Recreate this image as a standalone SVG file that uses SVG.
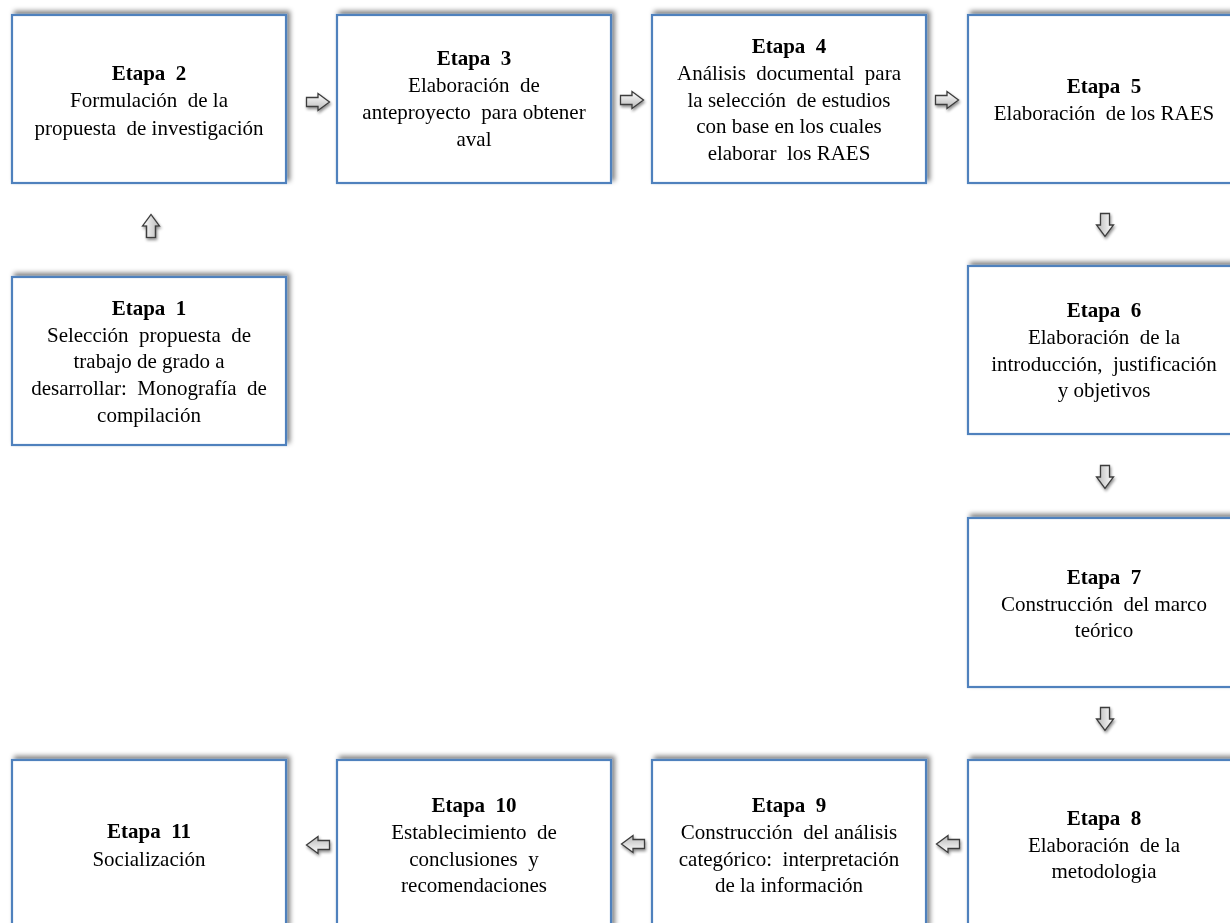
<svg xmlns="http://www.w3.org/2000/svg" width="1230" height="923" viewBox="0 0 1230 923" xml:space="preserve">
<defs>
<filter id="sh" x="-10%" y="-10%" width="120%" height="120%">
<feGaussianBlur in="SourceAlpha" stdDeviation="2.5"/>
<feOffset dx="3" dy="-3" result="b"/>
<feComponentTransfer><feFuncA type="linear" slope="0.5"/></feComponentTransfer>
<feMerge><feMergeNode/><feMergeNode in="SourceGraphic"/></feMerge>
</filter>
<filter id="ash" x="-30%" y="-30%" width="160%" height="160%">
<feGaussianBlur in="SourceAlpha" stdDeviation="1.5"/>
<feOffset dx="1" dy="1.5"/>
<feComponentTransfer><feFuncA type="linear" slope="0.45"/></feComponentTransfer>
<feMerge><feMergeNode/><feMergeNode in="SourceGraphic"/></feMerge>
</filter>
<linearGradient id="ag" x1="0" y1="0" x2="0" y2="1">
<stop offset="0" stop-color="#ffffff"/>
<stop offset="1" stop-color="#b8b8b8"/>
</linearGradient>
<path id="arr" d="M-11.5,-4.5 H0 V-8.5 L11.5,0 L0,8.5 V4.5 H-11.5 Z" fill="url(#ag)" stroke="#3c3c3c" stroke-width="1.3" stroke-linejoin="miter"/>
</defs>
<style>
.box{fill:#ffffff;stroke:#4f81bd;stroke-width:2.2;filter:url(#sh)}
text{font-family:"Liberation Serif","Times New Roman",serif;font-size:21px;fill:#000;text-anchor:middle;white-space:pre}
.t{font-weight:bold}
</style>
<rect width="1230" height="923" fill="#ffffff"/>

<g id="connectors" filter="url(#ash)">
<use href="#arr" transform="translate(318,102)"/>
<use href="#arr" transform="translate(632,100)"/>
<use href="#arr" transform="translate(947,100)"/>
<use href="#arr" transform="translate(151,226) rotate(-90)"/>
<use href="#arr" transform="translate(1105,225) rotate(90)"/>
<use href="#arr" transform="translate(1105,477) rotate(90)"/>
<use href="#arr" transform="translate(1105,719) rotate(90)"/>
<use href="#arr" transform="translate(948,844) rotate(180)"/>
<use href="#arr" transform="translate(633,844) rotate(180)"/>
<use href="#arr" transform="translate(318,845) rotate(180)"/>
</g>

<g id="etapa2">
<rect class="box" x="12" y="15" width="274" height="168"/>
<text x="149" y="80" class="t">Etapa  2</text>
<text x="149" y="107">Formulación  de la</text>
<text x="149" y="135">propuesta  de investigación</text>
</g>

<g id="etapa3">
<rect class="box" x="337" y="15" width="274" height="168"/>
<text x="474" y="65" class="t">Etapa  3</text>
<text x="474" y="92">Elaboración  de</text>
<text x="474" y="119">anteproyecto  para obtener</text>
<text x="474" y="146">aval</text>
</g>

<g id="etapa4">
<rect class="box" x="652" y="15" width="274" height="168"/>
<text x="789" y="53" class="t">Etapa  4</text>
<text x="789" y="80">Análisis  documental  para</text>
<text x="789" y="107">la selección  de estudios</text>
<text x="789" y="133">con base en los cuales</text>
<text x="789" y="160">elaborar  los RAES</text>
</g>

<g id="etapa5">
<rect class="box" x="968" y="15" width="274" height="168"/>
<text x="1104" y="93" class="t">Etapa  5</text>
<text x="1104" y="120">Elaboración  de los RAES</text>
</g>

<g id="etapa1">
<rect class="box" x="12" y="277" width="274" height="168"/>
<text x="149" y="315" class="t">Etapa  1</text>
<text x="149" y="342">Selección  propuesta  de</text>
<text x="149" y="368">trabajo de grado a</text>
<text x="149" y="395">desarrollar:  Monografía  de</text>
<text x="149" y="422">compilación</text>
</g>

<g id="etapa6">
<rect class="box" x="968" y="266" width="274" height="168"/>
<text x="1104" y="317" class="t">Etapa  6</text>
<text x="1104" y="344">Elaboración  de la</text>
<text x="1104" y="371">introducción,  justificación</text>
<text x="1104" y="397">y objetivos</text>
</g>

<g id="etapa7">
<rect class="box" x="968" y="518" width="274" height="169"/>
<text x="1104" y="584" class="t">Etapa  7</text>
<text x="1104" y="611">Construcción  del marco</text>
<text x="1104" y="637">teórico</text>
</g>

<g id="etapa8">
<rect class="box" x="968" y="760" width="274" height="169"/>
<text x="1104" y="825" class="t">Etapa  8</text>
<text x="1104" y="852">Elaboración  de la</text>
<text x="1104" y="878">metodologia</text>
</g>

<g id="etapa9">
<rect class="box" x="652" y="760" width="274" height="169"/>
<text x="789" y="812" class="t">Etapa  9</text>
<text x="789" y="839">Construcción  del análisis</text>
<text x="789" y="866">categórico:  interpretación</text>
<text x="789" y="892">de la información</text>
</g>

<g id="etapa10">
<rect class="box" x="337" y="760" width="274" height="169"/>
<text x="474" y="812" class="t">Etapa  10</text>
<text x="474" y="839">Establecimiento  de</text>
<text x="474" y="866">conclusiones  y</text>
<text x="474" y="892">recomendaciones</text>
</g>

<g id="etapa11">
<rect class="box" x="12" y="760" width="274" height="169"/>
<text x="149" y="838" class="t">Etapa  11</text>
<text x="149" y="866">Socialización</text>
</g>
</svg>
